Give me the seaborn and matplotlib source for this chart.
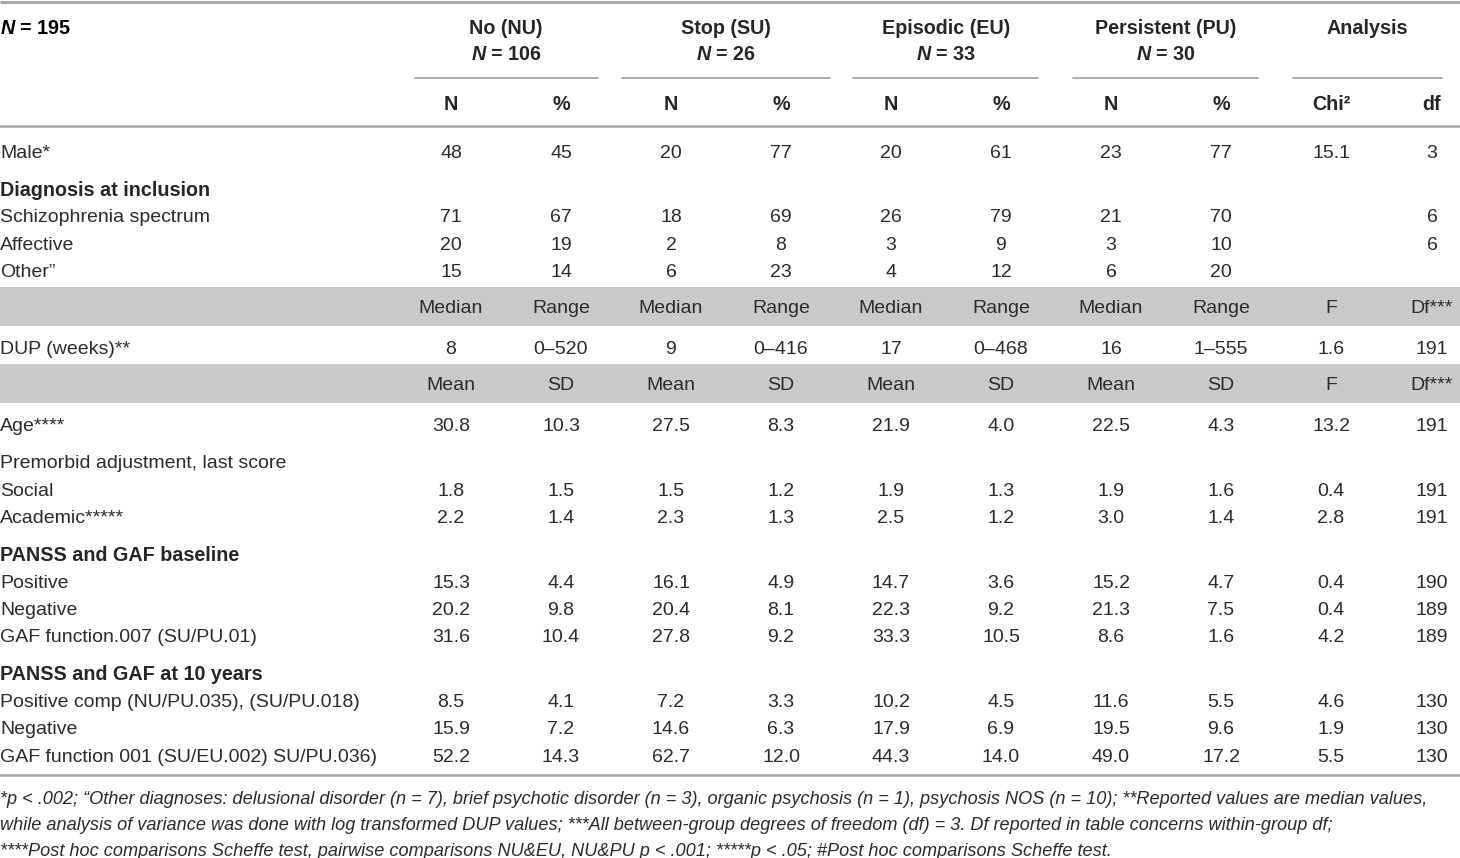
import matplotlib
matplotlib.use("Agg")
import matplotlib.pyplot as plt
import seaborn as sns

# table content
total_n = 195
groups = ["No (NU)", "Stop (SU)", "Episodic (EU)", "Persistent (PU)"]
group_n = [106, 26, 33, 30]
count_heads = ["N", "%", "N", "%", "N", "%", "N", "%", "Chi²", "df"]

male = ["48", "45", "20", "77", "20", "61", "23", "77", "15.1", "3"]
diag_labels = ["Schizophrenia spectrum", "Affective", "Other\u201d"]
diag_values = [
    ["71", "67", "18", "69", "26", "79", "21", "70", "", "6"],
    ["20", "19", "2", "8", "3", "9", "3", "10", "", "6"],
    ["15", "14", "6", "23", "4", "12", "6", "20", "", ""],
]
median_heads = ["Median", "Range"] * 4 + ["F", "Df***"]
dup = ["8", "0\u2013520", "9", "0\u2013416", "17", "0\u2013468", "16", "1\u2013555", "1.6", "191"]
mean_heads = ["Mean", "SD"] * 4 + ["F", "Df***"]
age = ["30.8", "10.3", "27.5", "8.3", "21.9", "4.0", "22.5", "4.3", "13.2", "191"]
premorbid_labels = ["Social", "Academic*****"]
premorbid_values = [
    ["1.8", "1.5", "1.5", "1.2", "1.9", "1.3", "1.9", "1.6", "0.4", "191"],
    ["2.2", "1.4", "2.3", "1.3", "2.5", "1.2", "3.0", "1.4", "2.8", "191"],
]
baseline_labels = ["Positive", "Negative", "GAF function.007 (SU/PU.01)"]
baseline_values = [
    ["15.3", "4.4", "16.1", "4.9", "14.7", "3.6", "15.2", "4.7", "0.4", "190"],
    ["20.2", "9.8", "20.4", "8.1", "22.3", "9.2", "21.3", "7.5", "0.4", "189"],
    ["31.6", "10.4", "27.8", "9.2", "33.3", "10.5", "8.6", "1.6", "4.2", "189"],
]
year10_labels = ["Positive comp (NU/PU.035), (SU/PU.018)", "Negative",
                 "GAF function 001 (SU/EU.002) SU/PU.036)"]
year10_values = [
    ["8.5", "4.1", "7.2", "3.3", "10.2", "4.5", "11.6", "5.5", "4.6", "130"],
    ["15.9", "7.2", "14.6", "6.3", "17.9", "6.9", "19.5", "9.6", "1.9", "130"],
    ["52.2", "14.3", "62.7", "12.0", "44.3", "14.0", "49.0", "17.2", "5.5", "130"],
]
footnotes = [
    "*p < .002; \u201cOther diagnoses: delusional disorder (n = 7), brief psychotic disorder (n = 3), "
    "organic psychosis (n = 1), psychosis NOS (n = 10); **Reported values are median values,",
    "while analysis of variance was done with log transformed DUP values; ***All between-group "
    "degrees of freedom (df) = 3. Df reported in table concerns within-group df;",
    "****Post hoc comparisons Scheffe test, pairwise comparisons NU&EU, NU&PU p < .001; "
    "*****p < .05; #Post hoc comparisons Scheffe test.",
]

# rows in order: (kind, label, values)
rows = [("row", "Male*", male), ("head", "Diagnosis at inclusion", None)]
rows += [("row", l, v) for l, v in zip(diag_labels, diag_values)]
rows += [("band", "", median_heads), ("row", "DUP (weeks)**", dup),
         ("band", "", mean_heads), ("row", "Age****", age),
         ("sub", "Premorbid adjustment, last score", None)]
rows += [("row", l, v) for l, v in zip(premorbid_labels, premorbid_values)]
rows += [("head", "PANSS and GAF baseline", None)]
rows += [("row", l, v) for l, v in zip(baseline_labels, baseline_values)]
rows += [("head", "PANSS and GAF at 10 years", None)]
rows += [("row", l, v) for l, v in zip(year10_labels, year10_values)]

sns.set_theme(style="white")
plt.rcParams["font.family"] = ["Liberation Sans", "DejaVu Sans"]
# italic N in the bold header
plt.rcParams["mathtext.fontset"] = "custom"
plt.rcParams["mathtext.it"] = "Liberation Sans:bold:italic"
plt.rcParams["mathtext.rm"] = "Liberation Sans:bold"

W, H = 1460, 858
fig = plt.figure(figsize=(W / 100, H / 100), dpi=100)
ax = fig.add_axes([0, 0, 1, 1])
ax.set_xlim(0, W)
ax.set_ylim(H, 0)
ax.axis("off")

body = "#2b2b2b"
rule = "#a8a8a8"
band_col = "#c9c9c9"
fs = 14
hfs = 14.2
dy = 2  # text sits a bit low in its row

col_x = [451, 561, 671, 781, 891, 1001, 1111, 1221, 1331, 1432]
group_x = [506, 726, 946, 1166, 1367]
group_span = [(415, 598), (622, 830), (853, 1038), (1073, 1258), (1293, 1442)]

# header
ax.plot([0, W], [2, 2], color=rule, lw=2.2, solid_capstyle="butt")
ax.text(0, 26 + dy, r"$\it{N}$ = %d" % total_n, fontsize=hfs, fontweight="bold",
        va="center", ha="left", color="black")
for i, (g, n) in enumerate(zip(groups, group_n)):
    ax.text(group_x[i], 26 + dy, g, fontsize=hfs, fontweight="bold", ha="center", va="center")
    ax.text(group_x[i], 53 + dy, r"$\it{N}$ = %d" % n, fontsize=hfs, fontweight="bold",
            ha="center", va="center")
ax.text(group_x[4], 26 + dy, "Analysis", fontsize=hfs, fontweight="bold", ha="center", va="center")
for x0, x1 in group_span:
    ax.plot([x0, x1], [78, 78], color=rule, lw=1.3)
for x, h in zip(col_x, count_heads):
    ax.text(x, 103 + dy, h, fontsize=hfs, fontweight="bold", ha="center", va="center")
ax.plot([0, W], [126, 126], color=rule, lw=1.8)

# body rows
y = 151
prev = None
for kind, label, vals in rows:
    if prev is not None:
        if kind in ("head", "sub"):
            y += 37
        elif kind == "band":
            y += 36
        elif prev == "band":
            y += 41
        else:
            y += 27.5
    if kind == "band":
        ax.axhspan(y - 20, y + 19, color=band_col, lw=0)
    if kind == "head":
        ax.text(0, y + dy, label, fontsize=hfs, fontweight="bold", va="center", ha="left")
    else:
        ax.text(0, y + dy, label, fontsize=fs, color=body, va="center", ha="left")
    if vals is not None:
        for x, v in zip(col_x, vals):
            ax.text(x, y + dy, v, fontsize=fs, color=body, ha="center", va="center")
    prev = kind

ax.plot([0, W], [775, 775], color=rule, lw=1.8)
for i, line in enumerate(footnotes):
    ax.text(0, 797 + dy + 26 * i, line, fontsize=13.1, style="italic", color=body,
            va="center", ha="left")

fig.savefig("out.png", dpi=100)
